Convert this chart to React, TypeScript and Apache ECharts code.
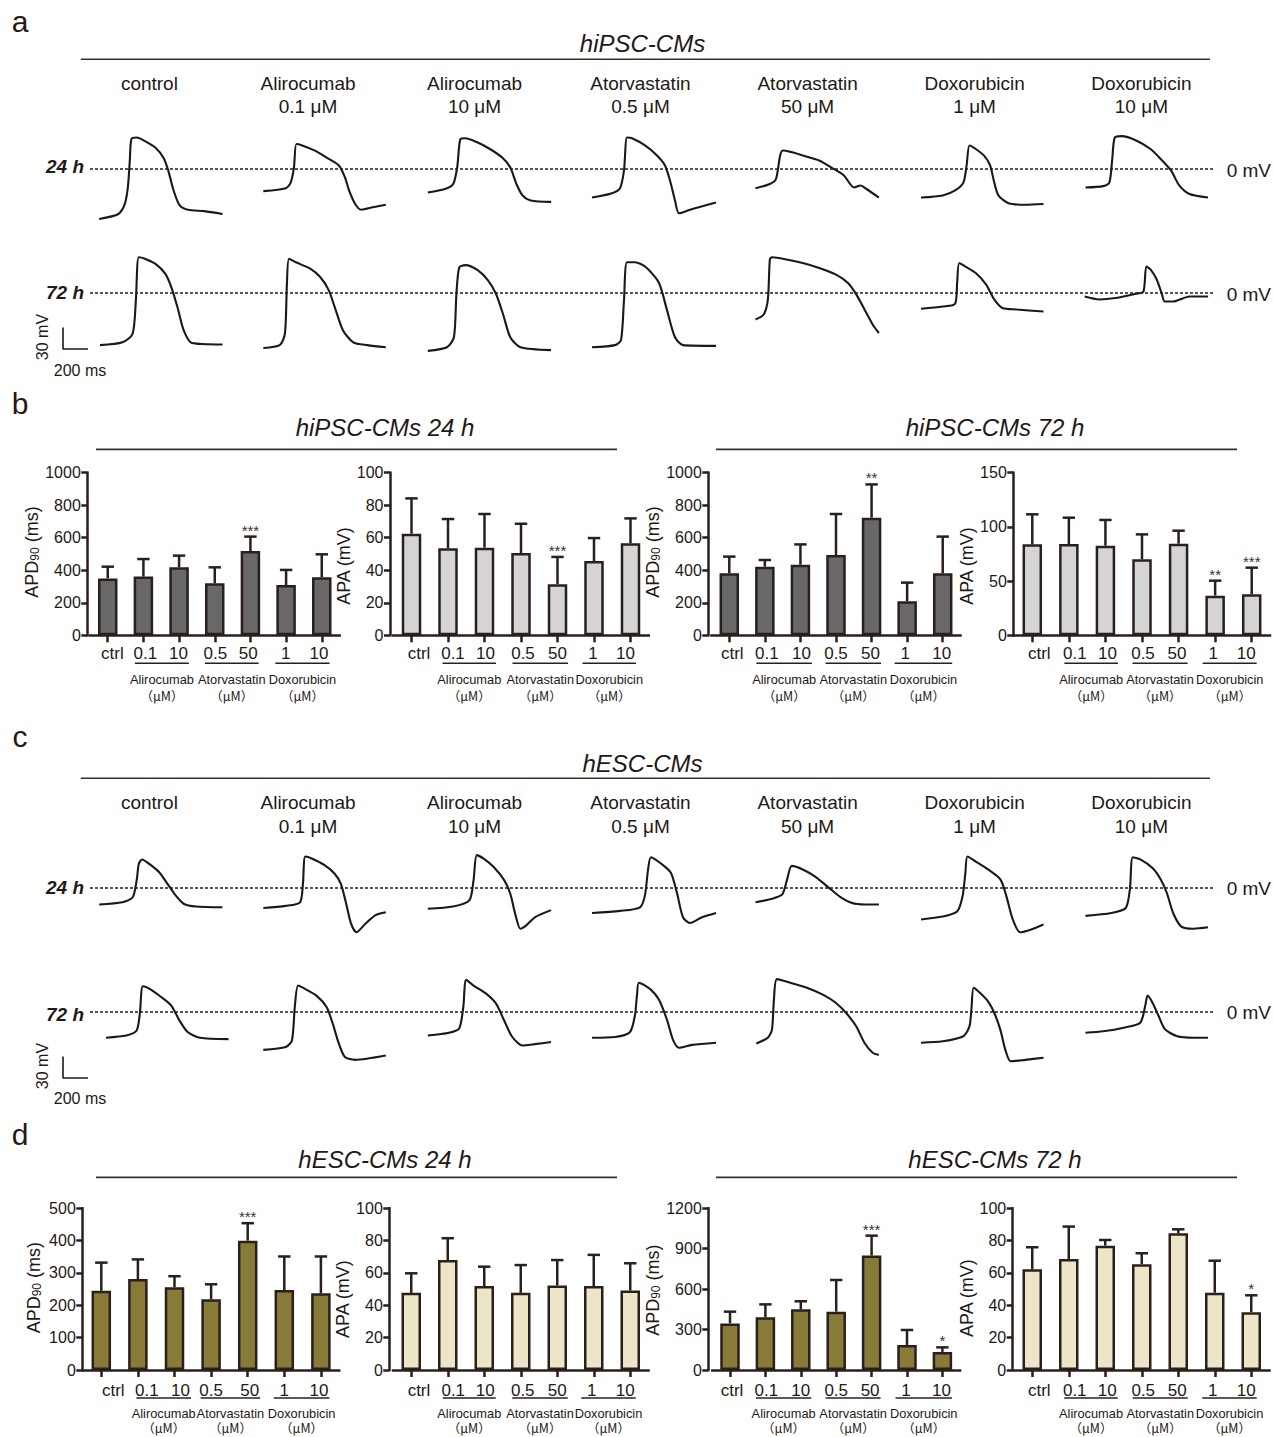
import React, { useEffect, useRef } from 'react';
import * as echarts from 'echarts';

// ---------- Action-potential traces: [time (ms), membrane potential (mV, 0 = dashed line)] ----------
const IPSC_24H = [
  [[0,-70],[154,-63],[203,-50],[229,-26],[245,12],[258,42],[301,44],[366,39],[448,30],[513,16],[552,-2],[595,-30],[644,-51],[709,-57],[840,-59],[987,-63]],
  [[0,-31],[180,-27],[219,-19],[245,2],[265,35],[311,33],[409,26],[507,16],[605,5],[654,-12],[686,-30],[735,-49],[784,-57],[866,-54],[980,-50]],
  [[0,-33],[137,-28],[203,-21],[235,2],[261,42],[301,43],[399,37],[497,28],[595,16],[660,2],[709,-21],[758,-37],[823,-44],[987,-46]],
  [[0,-40],[160,-34],[224,-27],[256,-2],[280,44],[320,43],[424,33],[520,19],[584,5],[624,-16],[664,-44],[696,-62],[784,-57],[992,-47]],
  [[0,-27],[115,-21],[164,-14],[197,19],[220,26],[280,24],[378,19],[510,12],[608,2],[707,-9],[789,-26],[839,-23],[888,-28],[987,-40]],
  [[0,-40],[174,-37],[273,-30],[339,-19],[365,5],[388,33],[438,28],[503,19],[553,5],[586,-19],[619,-37],[701,-48],[833,-50],[980,-49]],
  [[0,-26],[141,-24],[191,-19],[214,14],[234,44],[290,46],[405,40],[520,28],[602,14],[684,-2],[750,-23],[832,-35],[980,-40]],
];
const IPSC_72H = [
  [[0,-73],[180,-69],[261,-57],[287,-10],[310,50],[359,48],[441,41],[522,27],[571,8],[620,-20],[669,-52],[735,-70],[980,-72]],
  [[0,-77],[131,-73],[173,-57],[189,13],[206,48],[261,43],[375,34],[457,22],[523,4],[572,-20],[637,-52],[719,-69],[833,-73],[980,-76]],
  [[0,-81],[153,-76],[209,-62],[229,-1],[252,36],[301,39],[399,32],[480,18],[545,-1],[601,-29],[660,-62],[741,-76],[986,-80]],
  [[0,-76],[184,-73],[232,-66],[256,-10],[280,43],[344,43],[432,36],[536,14],[600,-24],[664,-62],[728,-73],[992,-74]],
  [[0,-37],[66,-30],[99,-9],[115,47],[132,50],[247,47],[378,42],[510,35],[641,26],[740,14],[806,-2],[872,-23],[937,-44],[987,-56]],
  [[0,-22],[174,-19],[273,-15],[289,14],[306,42],[355,37],[438,28],[520,12],[586,-9],[651,-21],[766,-23],[980,-26]],
  [[0,-5],[115,-9],[247,-7],[411,-1],[470,2],[493,37],[526,33],[576,19],[615,0],[641,-12],[707,-12],[839,-5],[987,-5]],
];
const ESC_24H = [
  [[0,-23],[186,-20],[268,-13],[300,11],[317,34],[343,40],[398,34],[480,22],[545,6],[610,-10],[676,-22],[774,-26],[986,-27]],
  [[0,-28],[180,-25],[294,-20],[317,6],[336,44],[392,41],[490,32],[571,20],[620,6],[663,-22],[702,-50],[745,-62],[817,-50],[898,-38],[980,-34]],
  [[0,-29],[202,-26],[333,-17],[366,11],[392,46],[447,41],[529,29],[611,11],[660,-8],[699,-36],[741,-57],[790,-52],[856,-41],[986,-31]],
  [[0,-35],[224,-32],[384,-27],[424,-10],[448,25],[472,43],[568,32],[632,21],[680,-7],[728,-41],[784,-49],[880,-41],[992,-35]],
  [[0,-20],[132,-15],[214,-9],[253,12],[290,31],[378,26],[477,16],[576,2],[674,-12],[773,-21],[872,-23],[987,-23]],
  [[0,-44],[174,-40],[289,-33],[332,-12],[355,21],[372,44],[438,37],[536,26],[635,12],[684,-12],[734,-44],[793,-62],[882,-58],[980,-51]],
  [[0,-39],[207,-35],[322,-28],[355,-2],[378,43],[438,40],[536,28],[602,12],[651,-7],[701,-35],[767,-54],[865,-57],[980,-55]],
];
const ESC_72H = [
  [[0,-36],[163,-33],[245,-26],[271,-2],[294,36],[343,33],[441,21],[522,9],[588,-12],[653,-28],[751,-36],[980,-38]],
  [[0,-53],[180,-49],[229,-40],[252,7],[278,37],[327,33],[425,23],[506,7],[555,-16],[604,-44],[653,-63],[735,-67],[980,-61]],
  [[0,-33],[170,-29],[251,-23],[284,7],[307,45],[366,37],[464,26],[545,12],[611,-12],[676,-35],[758,-47],[856,-45],[986,-42]],
  [[0,-36],[184,-35],[304,-28],[344,-4],[360,24],[376,41],[472,31],[536,17],[600,-11],[648,-39],[696,-50],[800,-46],[992,-43]],
  [[0,-44],[92,-36],[125,-25],[141,17],[165,46],[273,41],[405,34],[536,24],[635,13],[717,-1],[799,-20],[865,-43],[931,-57],[980,-60]],
  [[0,-43],[174,-41],[339,-34],[388,-20],[405,8],[421,34],[471,27],[536,15],[586,-1],[635,-25],[675,-53],[718,-69],[833,-67],[980,-64]],
  [[0,-29],[141,-27],[306,-22],[438,-15],[477,8],[497,23],[536,13],[586,-6],[635,-24],[734,-34],[865,-36],[980,-36]],
];
const SCALE_BAR = [[0, 30], [0, 0], [200, 0]]; // 30 mV / 200 ms

const TRACE_DRUGS = ['control', 'Alirocumab', 'Alirocumab', 'Atorvastatin', 'Atorvastatin', 'Doxorubicin', 'Doxorubicin'];
const TRACE_DOSES = ['', '0.1 μM', '10 μM', '0.5 μM', '50 μM', '1 μM', '10 μM'];

// ---------- Bar charts: mean, SD, significance ----------
const CATEGORIES = ['ctrl', '0.1', '10', '0.5', '50', '1', '10'];
const DRUGS = ['Alirocumab', 'Atorvastatin', 'Doxorubicin'];
const UNIT = '（μM）';

const IPSC24_APD_MEAN = [350, 361, 418, 320, 518, 309, 357];
const IPSC24_APD_SD = [72, 108, 72, 98, 89, 93, 141];
const IPSC24_APD_SIG = ['', '', '', '', '***', '', ''];
const IPSC24_APA_MEAN = [62.5, 53.5, 53.9, 50.6, 31.4, 45.7, 56.6];
const IPSC24_APA_SD = [21.7, 18.0, 20.7, 18.0, 16.8, 14.1, 15.3];
const IPSC24_APA_SIG = ['', '', '', '', '***', '', ''];
const IPSC72_APD_MEAN = [381, 422, 434, 494, 723, 209, 381];
const IPSC72_APD_SD = [103, 41, 125, 252, 205, 115, 226];
const IPSC72_APD_SIG = ['', '', '', '', '**', '', ''];
const IPSC72_APA_MEAN = [83.9, 84.2, 82.7, 70.1, 84.5, 36.6, 37.8];
const IPSC72_APA_SD = [27.7, 24.3, 23.7, 23.0, 12.0, 13.8, 24.6];
const IPSC72_APA_SIG = ['', '', '', '', '', '**', '***'];
const ESC24_APD_MEAN = [245, 281, 256, 219, 400, 247, 237];
const ESC24_APD_SD = [87, 61, 34, 46, 54, 104, 114];
const ESC24_APD_SIG = ['', '', '', '', '***', '', ''];
const ESC24_APA_MEAN = [47.7, 68.0, 51.9, 47.7, 52.3, 51.9, 49.2];
const ESC24_APA_SD = [12.1, 13.5, 12.0, 17.2, 15.7, 19.3, 16.8];
const ESC24_APA_SIG = ['', '', '', '', '', '', ''];
const ESC72_APD_MEAN = [346, 391, 450, 433, 849, 186, 134];
const ESC72_APD_SD = [87, 96, 60, 235, 148, 111, 34];
const ESC72_APD_SIG = ['', '', '', '', '***', '', '*'];
const ESC72_APA_MEAN = [62.3, 68.7, 76.9, 65.4, 84.5, 47.8, 35.7];
const ESC72_APA_SD = [13.6, 20.0, 3.5, 6.8, 2.5, 19.8, 10.5];
const ESC72_APA_SIG = ['', '', '', '', '', '', '*'];

// ---------- styles / layout ----------
const FONT = '"Liberation Sans", Arial, Helvetica, sans-serif';
const FONT_CJK = '"Noto Sans CJK SC", "Liberation Sans", sans-serif';
const INK = '#231815';
const AXIS = '#2b1f1c';
const RULE = '#3a2e2b';
const TRACE = '#1a1818';
const DARK_GRAY = '#686868';
const LIGHT_GRAY = '#d4d4d4';
const OLIVE = '#887b38';
const BEIGE = '#ece5c8';

const MS_PER_PX = 8;
const MV_PER_PX = 1.4;
const T_XMAX = 1000;
const T_YMIN = -100;
const T_YMAX = 60;

const COL_X = [149.4, 308, 474.5, 640.5, 807.6, 974.6, 1141.4];
const TRACE_ROWS = [
  { data: IPSC_24H, zeroY: 169, labelY: 166.7, mvY: 170, label: '24 h', starts: [99.2, 263.3, 427.8, 592, 755.5, 921, 1085.5] },
  { data: IPSC_72H, zeroY: 293, labelY: 292.7, mvY: 294.5, label: '72 h', starts: [100, 263.3, 427.8, 592, 755.5, 921, 1084.7] },
  { data: ESC_24H, zeroY: 888, labelY: 887.5, mvY: 888.3, label: '24 h', starts: [99.2, 263.3, 427.8, 592, 755.5, 921, 1085.5] },
  { data: ESC_72H, zeroY: 1012, labelY: 1014, mvY: 1012.5, label: '72 h', starts: [106, 263.3, 427.8, 592, 756.3, 921, 1085.5] },
];
const TRACE_PANELS = [
  { title: 'hiPSC-CMs', titleY: 43.3, ruleY: 59.3, col1Y: 83.3, col2Y: 106.7, scaleZeroY: 349, mvTextY: 337, msTextY: 370 },
  { title: 'hESC-CMs', titleY: 763.3, ruleY: 778.3, col1Y: 802.7, col2Y: 826, scaleZeroY: 1078, mvTextY: 1066, msTextY: 1098 },
];

const BAR_CHARTS = [
  { mean: IPSC24_APD_MEAN, sd: IPSC24_APD_SD, sig: IPSC24_APD_SIG, max: 1000, step: 200, apd: true, fill: DARK_GRAY, left: 89.9, width: 249.7, top: 472.7, height: 162.6, off: 2.6, nameGap: 44, nameShift: -2, labelShift: [4.6, 2, -0.7, 0.6, -2.3, -0.3, -2.7], lm: 10, drugDy: 44.5, unitDy: 60 },
  { mean: IPSC24_APA_MEAN, sd: IPSC24_APA_SD, sig: IPSC24_APA_SIG, max: 100, step: 20, apd: false, fill: LIGHT_GRAY, left: 393.25, width: 255.5, top: 472.7, height: 162.6, off: 3.25, nameGap: 28, nameShift: 12, labelShift: [7.5, 5, 1, 2, 0, -1, -5], lm: 10, drugDy: 44.5, unitDy: 60 },
  { mean: IPSC72_APD_MEAN, sd: IPSC72_APD_SD, sig: IPSC72_APD_SIG, max: 1000, step: 200, apd: true, fill: DARK_GRAY, left: 711.5, width: 249, top: 472.7, height: 162.6, off: 3.2, nameGap: 37, nameShift: -2, labelShift: [3, 2, 1, 0, -1, -2, -1], lm: 10, drugDy: 44.5, unitDy: 60 },
  { mean: IPSC72_APA_MEAN, sd: IPSC72_APA_SD, sig: IPSC72_APA_SIG, max: 150, step: 50, apd: false, fill: LIGHT_GRAY, left: 1014, width: 256, top: 472.7, height: 162.6, off: 0.7, nameGap: 28, nameShift: 12, labelShift: [7, 6, 2, 1, -1.5, -2, -5.5], lm: 10, drugDy: 44.5, unitDy: 60 },
  { mean: ESC24_APD_MEAN, sd: ESC24_APD_SD, sig: ESC24_APD_SIG, max: 500, step: 100, apd: true, fill: OLIVE, left: 83, width: 256.2, top: 1208.3, height: 161.7, off: 0.7, nameGap: 39, nameShift: -1.5, labelShift: [12, 9, 6, 0, 2, 0, -2], lm: 12, drugDy: 43, unitDy: 57.5 },
  { mean: ESC24_APA_MEAN, sd: ESC24_APA_SD, sig: ESC24_APA_SIG, max: 100, step: 20, apd: false, fill: BEIGE, left: 393, width: 255.5, top: 1208.3, height: 161.7, off: 3.7, nameGap: 25, nameShift: 10, labelShift: [7.7, 5.5, 1, 2, 0, -2, -5], lm: 12, drugDy: 43, unitDy: 57.5 },
  { mean: ESC72_APD_MEAN, sd: ESC72_APD_SD, sig: ESC72_APD_SIG, max: 1200, step: 300, apd: true, fill: OLIVE, left: 712.3, width: 247.8, top: 1208.3, height: 161.7, off: 4, nameGap: 33, nameShift: 1, labelShift: [2, 1, 0, 0, -1.5, -1, -1], lm: 12, drugDy: 43, unitDy: 57.5 },
  { mean: ESC72_APA_MEAN, sd: ESC72_APA_SD, sig: ESC72_APA_SIG, max: 100, step: 20, apd: false, fill: BEIGE, left: 1014, width: 255.5, top: 1208.3, height: 161.7, off: 1.3, nameGap: 29, nameShift: 9, labelShift: [7, 6, 2, 1.5, -1, -2, -5], lm: 12, drugDy: 43, unitDy: 57.5 },
];
const BAR_SECTIONS = [
  { titles: ['hiPSC-CMs 24 h', 'hiPSC-CMs 72 h'], titleY: 427.5, ruleY: 449.3 },
  { titles: ['hESC-CMs 24 h', 'hESC-CMs 72 h'], titleY: 1159, ruleY: 1177.3 },
];
const PANEL_LETTERS = [['a', 21.5], ['b', 403.5], ['c', 736.5], ['d', 1134.5]];

function txt(x: number, y: number, text: string, o: any = {}) {
  return {
    type: 'text', x, y, rotation: o.rot || 0, silent: true, z: 10,
    style: {
      text, fill: INK, fontFamily: o.family || FONT, fontSize: o.size || 19,
      fontStyle: o.italic ? 'italic' : 'normal', fontWeight: o.bold ? 'bold' : 'normal',
      align: o.align || 'center', verticalAlign: 'middle',
    },
  };
}
function ln(x1: number, y1: number, x2: number, y2: number, w = 1.5, color = RULE, dash?: number[]) {
  return { type: 'line', silent: true, z: 10, shape: { x1, y1, x2, y2 }, style: { stroke: color, lineWidth: w, lineDash: dash || null } };
}

function buildOption() {
  const grid: any[] = [];
  const xAxis: any[] = [];
  const yAxis: any[] = [];
  const series: any[] = [];
  const graphic: any[] = [];

  const addTrace = (left: number, zeroY: number, data: number[][], width = 2.1, smooth: any = 0.25) => {
    const i = grid.length;
    grid.push({ left, top: zeroY - T_YMAX / MV_PER_PX, width: T_XMAX / MS_PER_PX, height: (T_YMAX - T_YMIN) / MV_PER_PX });
    xAxis.push({ type: 'value', gridIndex: i, min: 0, max: T_XMAX, show: false });
    yAxis.push({ type: 'value', gridIndex: i, min: T_YMIN, max: T_YMAX, show: false });
    series.push({
      type: 'line', xAxisIndex: i, yAxisIndex: i, data, showSymbol: false, symbol: 'none', smooth,
      lineStyle: { color: TRACE, width }, silent: true, clip: false,
    });
  };

  PANEL_LETTERS.forEach(([l, y]) => graphic.push(txt(20, y as number, l as string, { size: 30 })));

  TRACE_PANELS.forEach((p, pi) => {
    graphic.push(txt(642.5, p.titleY, p.title, { size: 24, italic: true }));
    graphic.push(ln(80.8, p.ruleY, 1210, p.ruleY, 1.5));
    COL_X.forEach((x, c) => {
      graphic.push(txt(x, p.col1Y, TRACE_DRUGS[c]));
      if (TRACE_DOSES[c]) graphic.push(txt(x, p.col2Y, TRACE_DOSES[c]));
    });
    TRACE_ROWS.slice(pi * 2, pi * 2 + 2).forEach((r) => {
      graphic.push(txt(84, r.labelY, r.label, { bold: true, italic: true, align: 'right' }));
      graphic.push(ln(90, r.zeroY, 1215, r.zeroY, 1.4, '#1e1e1e', [3, 2]));
      graphic.push(txt(1226.7, r.mvY, '0 mV', { align: 'left' }));
      r.data.forEach((d, c) => addTrace(r.starts[c], r.zeroY, d));
    });
    addTrace(63, p.scaleZeroY, SCALE_BAR, 1.6, false);
    graphic.push(txt(42, p.mvTextY, '30 mV', { size: 16, rot: Math.PI / 2 }));
    graphic.push(txt(80, p.msTextY, '200 ms', { size: 16 }));
  });

  BAR_SECTIONS.forEach((s) => {
    graphic.push(txt(385, s.titleY, s.titles[0], { size: 24, italic: true }));
    graphic.push(txt(995, s.titleY, s.titles[1], { size: 24, italic: true }));
    graphic.push(ln(96, s.ruleY, 617, s.ruleY, 1.8));
    graphic.push(ln(716, s.ruleY, 1237, s.ruleY, 1.8));
  });

  BAR_CHARTS.forEach((b) => {
    const i = grid.length;
    grid.push({ left: b.left, top: b.top, width: b.width, height: b.height });
    const rich: any = {};
    b.labelShift.forEach((s, k) => {
      rich['s' + k] = { fontSize: 17, color: INK, fontFamily: FONT, padding: s >= 0 ? [0, 0, 0, 2 * s] : [0, -2 * s, 0, 0] };
    });
    const axisLine = { show: true, onZero: false, lineStyle: { color: AXIS, width: 2.5, cap: 'square' } };
    xAxis.push({
      type: 'category', gridIndex: i, data: CATEGORIES, axisLine,
      axisTick: { show: true, alignWithLabel: true, length: 7, lineStyle: { color: AXIS, width: 2.5 } },
      axisLabel: { interval: 0, margin: b.lm, fontSize: 17, color: INK, fontFamily: FONT, formatter: (v: string, k: number) => `{s${k}|${v}}`, rich },
      splitLine: { show: false },
    });
    const namePad = b.nameShift >= 0 ? [0, 2 * b.nameShift, 0, 0] : [0, 0, 0, -2 * b.nameShift];
    yAxis.push({
      type: 'value', gridIndex: i, min: 0, max: b.max, interval: b.step, offset: b.off,
      axisLine, axisTick: { show: true, length: 6, lineStyle: { color: AXIS, width: 2.5 } },
      axisLabel: { margin: 6.5, fontSize: 16, color: INK, fontFamily: FONT, formatter: (v: number) => String(v) },
      splitLine: { show: false },
      name: b.apd ? '{a|APD}{b|90}{a| (ms)}' : 'APA (mV)', nameLocation: 'middle', nameGap: b.nameGap,
      nameTextStyle: {
        fontSize: 18, color: INK, fontFamily: FONT, padding: namePad,
        rich: { a: { fontSize: 18, color: INK, fontFamily: FONT }, b: { fontSize: 12, color: INK, fontFamily: FONT, verticalAlign: 'bottom', padding: [7, 0, 0, 0] } },
      },
    });
    series.push({
      type: 'bar', xAxisIndex: i, yAxisIndex: i, data: b.mean, barWidth: 19.5, silent: true,
      itemStyle: { color: b.fill, borderColor: AXIS, borderWidth: 2.5 },
    });
    series.push({
      type: 'custom', xAxisIndex: i, yAxisIndex: i, silent: true, z: 5,
      data: b.mean.map((m, k) => [k, m, m + b.sd[k]]),
      renderItem: (params: any, api: any) => {
        const base = api.coord([api.value(0), api.value(1)]);
        const top = api.coord([api.value(0), api.value(2)]);
        const st = { stroke: AXIS, lineWidth: 2.5 };
        const children: any[] = [
          { type: 'line', shape: { x1: base[0], y1: base[1], x2: base[0], y2: top[1] }, style: st },
          { type: 'line', shape: { x1: base[0] - 6.2, y1: top[1], x2: base[0] + 6.2, y2: top[1] }, style: st },
        ];
        const star = b.sig[params.dataIndex];
        if (star) {
          children.push({ type: 'text', x: base[0], y: top[1] - 6.5, style: { text: star, fill: '#3a3030', fontSize: 15, fontFamily: FONT, align: 'center', verticalAlign: 'middle' } });
        }
        return { type: 'group', children };
      },
    });

    const axisY = b.top + b.height;
    const lab = b.labelShift.map((s, k) => b.left + (b.width * (k + 0.5)) / 7 + s);
    DRUGS.forEach((d, g) => {
      const a = lab[1 + 2 * g];
      const c = lab[2 + 2 * g];
      const mid = (a + c) / 2;
      const hw = (c - a) / 2 + 10.5;
      graphic.push(ln(mid - hw, axisY + 28, mid + hw, axisY + 28, 1.5, AXIS));
      graphic.push(txt(mid, axisY + b.drugDy, d, { size: 12.8 }));
      graphic.push(txt(mid, axisY + b.unitDy, UNIT, { size: 12.5, family: FONT_CJK }));
    });
  });

  return { animation: false, backgroundColor: '#ffffff', grid, xAxis, yAxis, series, graphic };
}

export default function App() {
  const ref = useRef<HTMLDivElement>(null);
  useEffect(() => {
    document.body.style.margin = '0';
    if (!ref.current) return;
    const chart = echarts.init(ref.current, null, { renderer: 'svg' });
    chart.setOption(buildOption() as any);
    return () => chart.dispose();
  }, []);
  return <div ref={ref} style={{ width: 1274, height: 1437 }} />;
}
